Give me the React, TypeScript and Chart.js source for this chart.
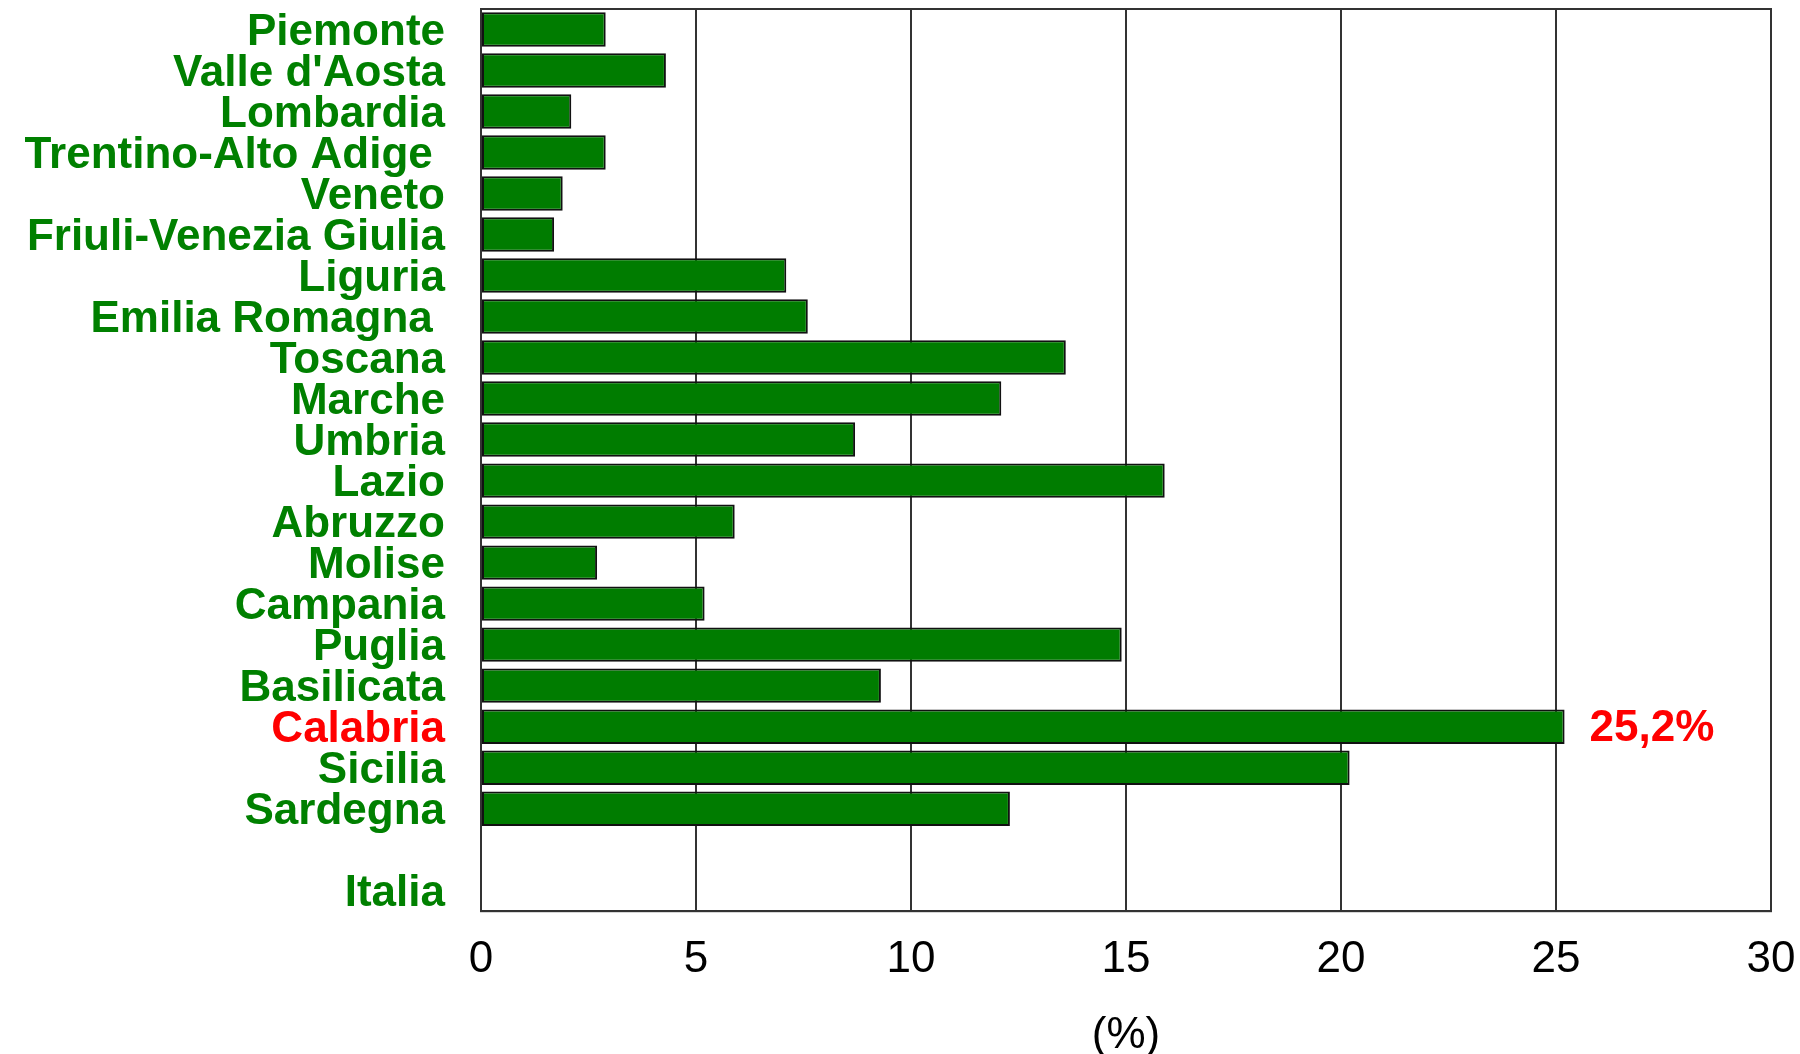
import React, { useEffect, useRef } from "react";
import { Chart, registerables } from "chart.js";

Chart.register(...registerables);

const regions: string[] = [
  "Piemonte",
  "Valle d'Aosta",
  "Lombardia",
  "Trentino-Alto Adige ",
  "Veneto",
  "Friuli-Venezia Giulia",
  "Liguria",
  "Emilia Romagna ",
  "Toscana",
  "Marche",
  "Umbria",
  "Lazio",
  "Abruzzo",
  "Molise",
  "Campania",
  "Puglia",
  "Basilicata",
  "Calabria",
  "Sicilia",
  "Sardegna",
  "",
  "Italia",
];

const values: (number | null)[] = [
  2.9, 4.3, 2.1, 2.9, 1.9, 1.7, 7.1, 7.6, 13.6, 12.1, 8.7, 15.9, 5.9, 2.7, 5.2,
  14.9, 9.3, 25.2, 20.2, 12.3, null, null,
];

const xTicks: number[] = [0, 5, 10, 15, 20, 25, 30];
const highlighted = "Calabria";
const axisTitle = "(%)";

const GREEN_TEXT = "#008000";
const BAR_FILL = "#007C00";
const RED = "#FF0000";
const FONT = "'Liberation Sans', Arial, sans-serif";

export default function App() {
  const ref = useRef<HTMLCanvasElement | null>(null);

  useEffect(() => {
    document.body.style.margin = "0";
    const canvas = ref.current;
    if (!canvas) return;

    const frame = {
      id: "frame",
      afterDraw(chart: any) {
        const { ctx, chartArea } = chart;
        ctx.save();
        ctx.strokeStyle = "#333333";
        ctx.lineWidth = 2;
        ctx.strokeRect(
          chartArea.left,
          chartArea.top,
          chartArea.right - chartArea.left,
          chartArea.bottom - chartArea.top
        );
        const idx = regions.indexOf(highlighted);
        const meta = chart.getDatasetMeta(0);
        const el = meta.data[idx];
        const v = values[idx];
        if (el && v != null) {
          ctx.fillStyle = RED;
          ctx.font = `bold 44px ${FONT}`;
          ctx.textAlign = "left";
          ctx.textBaseline = "middle";
          ctx.fillText(String(v).replace(".", ",") + "%", el.x + 25, el.y + 2);
        }
        ctx.restore();
      },
    };

    const chart = new Chart(canvas, {
      type: "bar",
      data: {
        labels: regions,
        datasets: [
          {
            data: values as any,
            backgroundColor: BAR_FILL,
            borderColor: "#111111",
            borderWidth: 2,
            borderSkipped: false,
            categoryPercentage: 1,
            barPercentage: 0.84,
          },
        ],
      },
      options: {
        indexAxis: "y",
        responsive: false,
        animation: false,
        devicePixelRatio: 1,
        layout: { padding: { left: 0, right: 29, top: 9, bottom: 0 } },
        plugins: {
          legend: { display: false },
          tooltip: { enabled: false },
        },
        scales: {
          x: {
            type: "linear",
            min: 0,
            max: 30,
            afterBuildTicks: (scale: any) => {
              scale.ticks = xTicks.map((v) => ({ value: v }));
            },
            grid: {
              display: true,
              color: "#333333",
              lineWidth: 2,
              drawTicks: false,
            },
            border: { display: true, color: "#333333", width: 2 },
            ticks: {
              color: "#000000",
              font: { family: FONT, size: 44 },
              padding: 22,
              maxRotation: 0,
            },
            title: {
              display: true,
              text: axisTitle,
              color: "#000000",
              font: { family: FONT, size: 44, lineHeight: 1 },
              padding: { top: 6, bottom: -4 },
            },
            afterFit: (scale: any) => {
              scale.paddingLeft = 0;
              scale.paddingRight = 0;
            },
          },
          y: {
            type: "category",
            offset: true,
            grid: { display: false, drawTicks: false },
            border: { display: true, color: "#333333", width: 2 },
            ticks: {
              color: (ctx: any) =>
                regions[ctx.index] === highlighted ? RED : GREEN_TEXT,
              font: { family: FONT, size: 44, weight: "bold" },
              padding: 36,
              labelOffset: 3,
              autoSkip: false,
            },
            afterFit: (scale: any) => {
              scale.width = 481;
              scale.paddingTop = 0;
              scale.paddingBottom = 0;
            },
          },
        },
      },
      plugins: [frame],
    } as any);

    return () => chart.destroy();
  }, []);

  return (
    <div style={{ width: 1800, height: 1054, background: "#ffffff" }}>
      <canvas ref={ref} width={1800} height={1054} />
    </div>
  );
}
